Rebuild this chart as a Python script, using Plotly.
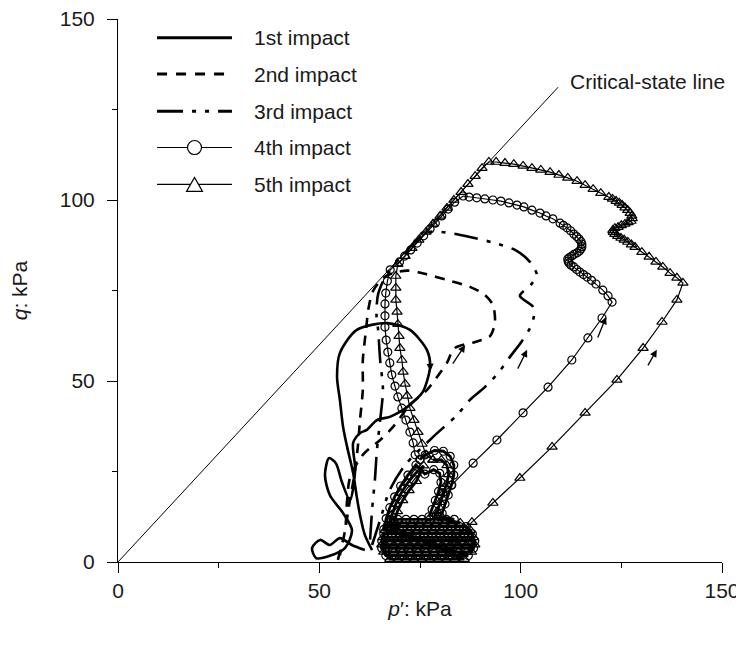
import plotly.graph_objects as go

# ---------------- data (p', q in kPa) ----------------
first_p = [61.3,58.1,55.1,52.6,50.2,48.2,49.2,52.6,56.4,58.1,55.9,52.6,51.4,52.4,54.1,55.6,57.6,58.9,58.4,60.1,61.8,64.3,67.5,70.8,73.3,75.7,77.5,76.7,72.5,66.8,59.3,55.1,54.4,55.1,55.9,56.9,58.4,59.3,60.1,61.3,63.1]
first_q = [3.3,4.7,6.6,4.7,6.1,3.9,1.1,1.7,3.9,8.8,13.5,18.5,24.0,28.7,27.3,22.1,17.1,25.4,32.9,35.6,36.5,39.2,40.1,42.0,44.2,47.0,53.9,58.6,64.1,66.0,64.1,57.7,51.1,44.8,37.3,31.8,24.6,18.0,13.0,7.5,3.3]

second_p = [54.6,56.4,56.9,57.6,60.8,65.1,68.3,72.5,76.7,79.5,81.7,83.5,88.7,92.4,93.6,93.1,91.1,87.4,81.7,76.2,71.8,66.5,63.4,62.2,61.6,60.8,60.8,60.1,59.6,58.9,57.6,56.4,55.1]
second_q = [0.6,8.8,17.1,23.2,29.6,33.7,37.3,43.4,47.5,51.5,55.0,59.0,60.8,62.4,66.3,71.0,73.8,76.0,77.9,79.6,80.5,79.0,75.0,70.0,64.1,55.8,47.5,39.2,32.3,25.4,17.1,8.8,1.9]

third_p = [63.1,65.1,67.5,71.3,78.2,84.2,87.4,91.1,94.4,97.3,100.3,102.3,103.3,103.0,99.8,102.5,104.0,102.3,98.6,93.6,87.4,82.4,77.5,74.5,71.0,67.0,64.6,64.2,64.6,65.1,65.8,65.1,64.3,63.8,63.1,62.6]
third_q = [4.7,11.6,19.9,26.8,34.5,40.6,44.8,48.3,52.2,56.6,61.0,64.6,68.0,70.6,73.5,76.5,79.3,82.9,86.2,88.1,89.8,90.9,91.2,89.3,85.0,80.0,74.0,68.0,64.1,55.8,47.5,39.2,30.9,22.7,14.4,6.1]

fourth_diag_p = [80.7,82.9,88.2,94.1,100.6,106.8,112.7,116.7,120.2,122.7]
fourth_diag_q = [19.1,21.3,27.3,33.7,41.2,48.3,55.8,61.9,67.4,71.8]
fourth_arc_p = [121.7,120.4,118.7,117.6,116.5,115.6,114.7,113.9,113.2,112.5,112.0,111.8,111.7,112.1,112.7,113.3,114.0,114.6,115.0,115.2,115.2,115.0,114.5,113.9,113.2,112.4,111.5,110.6,109.8,108.0,106.3,104.8,102.8,100.8,99.1,97.1,95.1,93.1,91.1,89.1,87.2,85.7]
fourth_arc_q = [73.5,75.1,76.8,77.8,78.7,79.4,80.1,80.8,81.5,82.0,82.6,83.1,83.7,84.1,84.5,85.0,85.4,85.9,86.5,87.1,87.8,88.5,89.2,89.9,90.6,91.5,92.3,93.0,93.6,94.8,95.6,96.4,97.2,98.1,98.6,99.2,99.7,100.0,100.3,100.6,100.8,101.1]
fourth_csl_p = [83.6,82.0,80.4,78.8,77.5,75.9,74.3,72.7,71.2,69.9]
fourth_csl_q = [99.4,97.5,95.6,93.6,92.0,90.1,88.1,86.2,84.5,82.9]
fourth_col_p = [67.6,66.9,66.5,66.3,66.3,66.3,66.6,67.0,67.5,68.0,68.8,69.5,70.5,71.5,72.5,73.3,73.8]
fourth_col_q = [80.7,77.6,74.3,71.3,68.0,64.9,61.3,58.0,55.0,51.7,48.6,45.6,42.5,39.2,35.9,32.9,29.6]
# dense cycling near the bottom (dark cluster): arch, then back-and-forth passes, then arch again
fourth_arch_in_p = [75.0,76.3,78.6,80.8,82.5,83.4,83.4,82.8,82.0,81.2,80.5,80.0]
fourth_arch_in_q = [28.3,29.6,30.8,30.6,29.2,26.8,24.0,21.2,18.5,16.0,13.5,12.6]
fourth_pass_q = [11.8, 9.8, 7.8, 5.8, 3.8, 1.8]
fourth_pass_p = [[83.5,81.5,79.5,77.5,75.5,73.5,71.5,69.5,67.8],
                 [66.8,68.8,70.8,72.8,74.8,76.8,78.8,80.8,82.8,84.8,86.5],
                 [88.0,86.0,84.0,82.0,80.0,78.0,76.0,74.0,72.0,70.0,68.0,66.0],
                 [65.5,67.5,69.5,71.5,73.5,75.5,77.5,79.5,81.5,83.5,85.5,87.5,88.6],
                 [88.3,86.3,84.3,82.3,80.3,78.3,76.3,74.3,72.3,70.3,68.3,66.3,65.5],
                 [66.5,68.5,70.5,72.5,74.5,76.5,78.5,80.5,82.5,84.5,87.0]]
fourth_arch_out_p = [66.0,66.6,67.5,68.7,70.2,72.0,74.0,76.2,78.4,79.9,80.2,79.6,78.8,78.0,77.2]
fourth_arch_out_q = [9.0,12.0,15.0,18.0,21.0,24.0,26.8,24.3,25.5,24.5,22.0,19.5,17.0,14.5,12.5]

fifth_diag_p = [83.7,87.9,93.1,99.8,107.8,116.0,123.9,130.4,135.1,138.8,140.3]
fifth_diag_q = [6.1,11.0,16.3,23.2,31.8,41.2,50.3,59.1,66.3,72.4,77.1]
fifth_arc_p = [138.8,137.1,135.3,133.6,131.9,130.1,128.4,127.5,126.6,125.7,124.9,124.1,123.4,123.0,122.9,123.4,124.2,125.0,125.9,126.7,127.4,127.7,127.6,127.2,126.6,125.9,125.2,124.5,123.7,122.8,121.9,119.9,118.0,116.0,114.0,111.7,109.5,107.3,105.0,102.8,100.6,98.3,96.1,93.9,92.1]
fifth_arc_q = [78.5,79.8,81.5,82.9,84.3,85.6,87.0,87.7,88.4,89.0,89.5,90.0,90.6,91.1,91.7,92.2,92.5,93.0,93.4,93.8,94.2,94.9,95.6,96.4,97.2,97.9,98.6,99.2,99.7,100.3,100.8,101.9,103.0,104.1,105.2,106.1,106.9,107.7,108.3,108.8,109.4,109.9,110.2,110.5,110.5]
fifth_csl_p = [90.4,88.7,86.9,85.2,83.4,81.7,80.0,78.2,76.5,74.7,73.0,71.3,69.5]
fifth_csl_q = [108.8,106.6,104.4,102.2,100.0,97.8,95.6,93.4,91.2,89.0,86.7,84.5,82.3]
fifth_col_p = [69.0,69.0,69.0,69.3,69.5,69.8,70.0,70.5,70.8,71.3,71.8,72.5,73.5,74.5,75.5,76.5]
fifth_col_q = [79.0,75.7,72.4,69.1,65.7,62.4,59.1,55.8,52.5,49.2,45.9,42.5,39.2,35.9,32.6,29.6]
fifth_arch_in_p = [78.2,80.3,81.7,82.1,81.6,80.8,80.0,79.3,78.5]
fifth_arch_in_q = [28.2,28.2,26.7,24.2,21.5,19.0,16.5,14.0,12.4]
fifth_pass_q = [10.8, 8.8, 6.8, 4.8, 2.8, 0.8]
fifth_pass_p = [[85.0,83.0,81.0,79.0,77.0,75.0,73.0,71.0,69.0,67.2],
                [66.3,68.3,70.3,72.3,74.3,76.3,78.3,80.3,82.3,84.3,86.3,87.5],
                [88.3,86.5,84.5,82.5,80.5,78.5,76.5,74.5,72.5,70.5,68.5,66.5,65.8],
                [65.5,66.5,68.5,70.5,72.5,74.5,76.5,78.5,80.5,82.5,84.5,86.5,88.6],
                [87.8,86.5,84.5,82.5,80.5,78.5,76.5,74.5,72.5,70.5,68.5,66.0],
                [67.5,69.5,71.5,73.5,75.5,77.5,79.5,81.5,83.5,86.0]]
fifth_arch_out_p = [67.3,68.0,69.0,70.3,71.9,73.8,75.9,74.1,72.3,70.7,69.4,68.5]
fifth_arch_out_q = [10.0,13.0,16.0,19.0,21.8,24.4,26.6,22.3,19.8,17.0,14.0,11.0]

csl_slope = 1.2
csl_p = [0, 109.3]

arrow_head_p = [86.2, 101.6, 121.2, 133.8, 77.6]
arrow_head_q = [59.9, 58.6, 67.7, 58.6, 52.8]
arrow_tail_p = [82.9, 99.1, 119.0, 131.4, 77.4]
arrow_tail_q = [54.4, 53.0, 61.6, 53.9, 57.0]

legend_labels = ["1st impact", "2nd impact", "3rd impact", "4th impact", "5th impact"]
x_ticks = [0, 50, 100, 150]
y_ticks = [0, 50, 100, 150]

FONT = "Liberation Sans, Arial, sans-serif"
TXT = "#1a1a1a"
FS = 21


def cluster(in_p, in_q, pass_p, pass_q, out_p, out_q):
    xs, ys = list(in_p), list(in_q)
    for row, qv in zip(pass_p, pass_q):
        xs += row
        ys += [qv for _ in row]
    return xs + out_p, ys + out_q


fig = go.Figure()

fig.add_trace(go.Scatter(x=csl_p, y=[p * csl_slope for p in csl_p], mode="lines",
                         line=dict(color="black", width=1), showlegend=False, hoverinfo="skip"))

fig.add_trace(go.Scatter(x=first_p, y=first_q, mode="lines", name=legend_labels[0],
                         line=dict(color="black", width=2.6, shape="spline", smoothing=0.8)))
fig.add_trace(go.Scatter(x=second_p, y=second_q, mode="lines", name=legend_labels[1],
                         line=dict(color="black", width=2.6, dash="10px,8px", shape="spline", smoothing=0.8)))
fig.add_trace(go.Scatter(x=third_p, y=third_q, mode="lines", name=legend_labels[2],
                         line=dict(color="black", width=2.6, dash="24px,9px,4px,9px,4px,9px", shape="spline", smoothing=0.8)))

fourth_p = fourth_diag_p + fourth_arc_p + fourth_csl_p + fourth_col_p + fourth_arch_in_p[:1]
fourth_q = fourth_diag_q + fourth_arc_q + fourth_csl_q + fourth_col_q + fourth_arch_in_q[:1]
fifth_p = fifth_diag_p + fifth_arc_p + fifth_csl_p + fifth_col_p + fifth_arch_in_p[:1]
fifth_q = fifth_diag_q + fifth_arc_q + fifth_csl_q + fifth_col_q + fifth_arch_in_q[:1]
f4bx, f4by = cluster(fourth_arch_in_p, fourth_arch_in_q, fourth_pass_p, fourth_pass_q,
                     fourth_arch_out_p, fourth_arch_out_q)
f5bx, f5by = cluster(fifth_arch_in_p, fifth_arch_in_q, fifth_pass_p, fifth_pass_q,
                     fifth_arch_out_p, fifth_arch_out_q)

circ = dict(symbol="circle-open", size=8, color="black", line=dict(width=1.2))
tri = dict(symbol="triangle-up-open", size=9, color="black", line=dict(width=1.2))

fig.add_trace(go.Scatter(x=fourth_p, y=fourth_q, mode="lines+markers", name=legend_labels[3],
                         line=dict(color="black", width=1.2), marker=circ))
fig.add_trace(go.Scatter(x=fifth_p, y=fifth_q, mode="lines+markers", name=legend_labels[4],
                         line=dict(color="black", width=1.2), marker=tri))
fig.add_trace(go.Scatter(x=f4bx, y=f4by, mode="lines+markers", name=legend_labels[3],
                         line=dict(color="black", width=2.8), marker=circ))
fig.add_trace(go.Scatter(x=f5bx, y=f5by, mode="lines+markers", name=legend_labels[4],
                         line=dict(color="black", width=2.8), marker=tri))

# arrows
for hp, hq, tp, tq in zip(arrow_head_p, arrow_head_q, arrow_tail_p, arrow_tail_q):
    fig.add_annotation(x=hp, y=hq, ax=tp, ay=tq, xref="x", yref="y", axref="x", ayref="y",
                       text="", showarrow=True, arrowhead=2, arrowsize=1.1, arrowwidth=1.3,
                       arrowcolor="black")

# critical-state label
fig.add_annotation(x=111.7, y=132.6, xref="x", yref="y", text="Critical-state line",
                   showarrow=False, xanchor="left", yanchor="middle",
                   font=dict(family=FONT, size=FS, color=TXT))

# manual legend (long samples as in the original)
rows_q = [144.8, 134.8, 124.5, 114.5, 104.3]
x0, x1, xt = 9.7, 28.3, 33.3
dashes = ["solid", "10px,9px", "26px,9px,4px,9px,4px,9px"]
for i in range(3):
    fig.add_shape(type="line", x0=x0, x1=x1, y0=rows_q[i], y1=rows_q[i], xref="x", yref="y",
                  line=dict(color="black", width=3, dash=dashes[i]))
for i in range(3, 5):
    fig.add_shape(type="line", x0=x0, x1=x1, y0=rows_q[i], y1=rows_q[i], xref="x", yref="y",
                  line=dict(color="black", width=1.2))
xc = (x0 + x1) / 2
rx, ry = 7 / 4.027, 7 / 3.62
fig.add_shape(type="circle", x0=xc - rx, x1=xc + rx, y0=rows_q[3] - ry, y1=rows_q[3] + ry,
              xref="x", yref="y", line=dict(color="black", width=1.2), fillcolor="white")
tw, th = 8 / 4.027, 14 / 3.62
qb = rows_q[4] - th / 2
fig.add_shape(type="path", xref="x", yref="y",
              path=f"M {xc - tw},{qb} L {xc + tw},{qb} L {xc},{qb + th} Z",
              line=dict(color="black", width=1.2), fillcolor="white")
for i, lab in enumerate(legend_labels):
    fig.add_annotation(x=xt, y=rows_q[i], xref="x", yref="y", text=lab, showarrow=False,
                       xanchor="left", yanchor="middle", font=dict(family=FONT, size=FS, color=TXT))

axis_common = dict(range=[0, 150], tickmode="array", ticks="outside", ticklen=10, tickwidth=1,
                   tickcolor="black", showline=True, linecolor="black", linewidth=1,
                   showgrid=False, zeroline=False, automargin=False, ticklabeloverflow="allow",
                   minor=dict(tickmode="array", tickvals=[25, 75, 125], ticks="outside", ticklen=5,
                              tickcolor="black", tickwidth=1, showgrid=False),
                   tickfont=dict(family=FONT, size=FS, color=TXT))
fig.update_xaxes(**axis_common, tickvals=x_ticks,
                 title=dict(text="<i>p</i>′: kPa", font=dict(family=FONT, size=FS, color=TXT), standoff=0))
fig.update_yaxes(**axis_common, tickvals=y_ticks, ticklabelstandoff=8,
                 title=dict(text="<i>q</i>: kPa", font=dict(family=FONT, size=FS, color=TXT), standoff=26))

# the page body adds an 8 px offset; margins compensate so the plot sits where the original does
fig.update_layout(width=744, height=646, margin=dict(l=110, r=30, t=11, b=92),
                  paper_bgcolor="white", plot_bgcolor="white", showlegend=False)

fig.write_html("out.html")
